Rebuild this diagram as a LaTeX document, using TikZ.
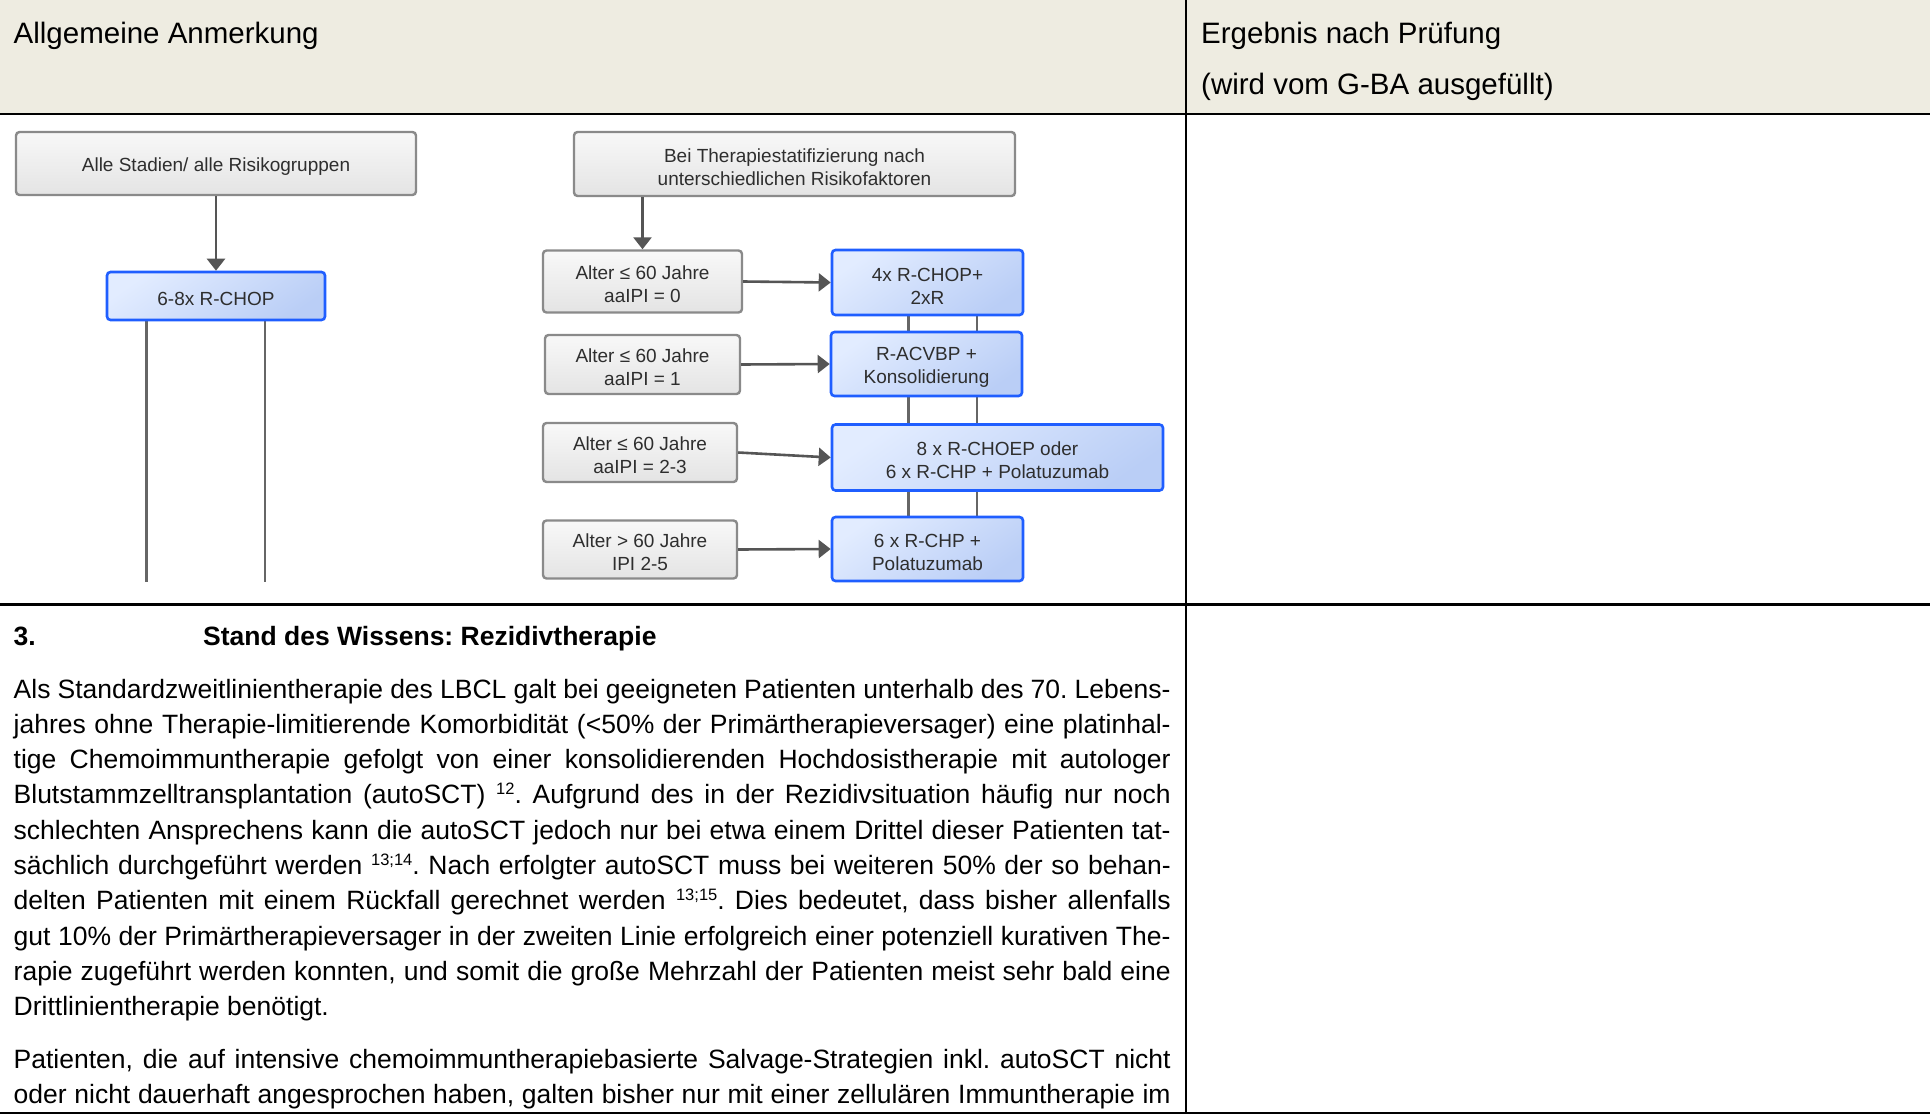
\documentclass[tikz,border=0pt]{standalone}
\usepackage{fontspec}
\setmainfont{Liberation Sans}
\usetikzlibrary{arrows.meta,backgrounds}
\definecolor{hdr}{HTML}{EEECE1}
\definecolor{gborder}{HTML}{8A8A8A}
\definecolor{gtop}{HTML}{F8F8F8}
\definecolor{gbot}{HTML}{E4E4E4}
\definecolor{bborder}{HTML}{1F5EFF}
\definecolor{btop}{HTML}{E2ECFF}
\definecolor{bbot}{HTML}{BACEF6}
\definecolor{conn}{HTML}{555555}
\definecolor{boxtext}{HTML}{2E2E2E}
\newcommand{\boxstrut}{\rule{0pt}{20pt}}
\newcommand{\supref}[1]{\raisebox{9.5pt}{\fontsize{16.5}{16.5}\selectfont #1}}
\frenchspacing
\begin{document}
\begin{tikzpicture}[x=1pt,y=-1pt,
  box/.style 2 args={minimum width=#1, minimum height=#2, inner sep=0pt, align=center,
     rounded corners=3.5pt, text=boxtext, font=\fontsize{19}{23}\selectfont},
  graybox/.style={draw=gborder, line width=2.4pt, top color=gtop, bottom color=gbot},
  bluebox/.style={draw=bborder, line width=2.6pt, top color=btop, bottom color=bbot, shading angle=35},
  arr/.style={draw=conn, line width=2.6pt, -{Triangle[width=18pt,length=12pt]}},
  plainline/.style={draw=conn!90, line width=2.2pt},
  rule/.style={line width=2.2pt, black},
  hdrtext/.style={anchor=base west, inner sep=0pt, font=\fontsize{29.5}{35}\selectfont},
  bodytext/.style={anchor=base west, inner sep=0pt, font=\fontsize{26.5}{35.3}\selectfont}]
\useasboundingbox (0,0) rectangle (1930,1116);
% header band
\fill[hdr] (0,0) rectangle (1930,113);
% table rules
\draw[rule] (0,114) -- (1930,114);
\draw[rule] (1186,0) -- (1186,1114);
\draw[rule] (0,604.5) -- (1930,604.5);
\draw[rule] (0,1113) -- (1930,1113);
% header texts
\node[hdrtext] (h1) at (13.5,44) {Allgemeine Anmerkung};
\node[hdrtext] (h2) at (1201,44) {Ergebnis nach Prüfung};
\node[hdrtext] (h3) at (1201,94) {(wird vom G-BA ausgefüllt)};
% flowchart left
\node[box={400pt}{63pt}, graybox] (A) at (216,163.5) {\boxstrut Alle Stadien/ alle Risikogruppen};
\node[box={218pt}{48pt}, bluebox] (B) at (216,296) {\boxstrut 6-8x R-CHOP};
\coordinate (bL) at (146.5,582);
\coordinate (bR) at (264.6,582);
% flowchart right
\node[box={441pt}{64pt}, graybox] (C) at (794.5,164) {\boxstrut Bei Therapiestatifizierung nach\\unterschiedlichen Risikofaktoren};
\node[box={199pt}{62pt}, graybox] (D1) at (642.5,281.5) {\boxstrut Alter ≤ 60 Jahre\\aaIPI = 0};
\node[box={195pt}{59pt}, graybox] (D2) at (642.5,364.5) {\boxstrut Alter ≤ 60 Jahre\\aaIPI = 1};
\node[box={194pt}{59pt}, graybox] (D3) at (640,452.5) {\boxstrut Alter ≤ 60 Jahre\\aaIPI = 2-3};
\node[box={194pt}{58pt}, graybox] (D4) at (640,549.5) {\boxstrut Alter > 60 Jahre\\IPI 2-5};
\node[box={191pt}{65pt}, bluebox] (E1) at (927.5,282.5) {\boxstrut 4x R-CHOP+\\2xR};
\node[box={191pt}{64pt}, bluebox] (E2) at (926.5,364) {\boxstrut R-ACVBP +\\Konsolidierung};
\node[box={331pt}{66pt}, bluebox] (E3) at (997.5,457.5) {\boxstrut 8 x R-CHOEP oder\\6 x R-CHP + Polatuzumab};
\node[box={191pt}{64pt}, bluebox] (E4) at (927.5,549) {\boxstrut 6 x R-CHP +\\Polatuzumab};
\coordinate (eL) at (908.4,582);
\coordinate (eR) at (977.3,582);
% connectors
\draw[arr] (A.south) -- (B.north);
\draw[arr] (C.south -| D1.north) -- (D1.north);
\draw[arr] (D1.east) -- (E1.west);
\draw[arr] (D2.east) -- (E2.west);
\draw[arr] (D3.east) -- (E3.west);
\draw[arr] (D4.east) -- (E4.west);
\begin{scope}[on background layer]
\draw[plainline] (B.south -| bL) -- (bL);
\draw[plainline] (B.south -| bR) -- (bR);
\draw[plainline] (E1.south -| eL) -- (eL);
\draw[plainline] (E1.south -| eR) -- (eR);
\end{scope}
% body section
\node[bodytext, font=\fontsize{26.5}{35.3}\selectfont\bfseries] (n3) at (13.5,645) {3.};
\node[bodytext, font=\fontsize{26.5}{35.3}\selectfont\bfseries] (ttl) at (203,645) {Stand des Wissens: Rezidivtherapie};
\node[bodytext] (p1) at (13.5,698) {\vtop{\hsize=1157pt \baselineskip=35.3pt
\hbox to\hsize{Als Standardzweitlinientherapie des LBCL galt bei geeigneten Patienten unterhalb des 70. Lebens-}
\hbox to\hsize{jahres ohne Therapie-limitierende Komorbidität (<50\% der Primärtherapieversager) eine platinhal-}
\hbox to\hsize{tige Chemoimmuntherapie gefolgt von einer konsolidierenden Hochdosistherapie mit autologer}
\hbox to\hsize{Blutstammzelltransplantation (autoSCT) \supref{12}. Aufgrund des in der Rezidivsituation häufig nur noch}
\hbox to\hsize{schlechten Ansprechens kann die autoSCT jedoch nur bei etwa einem Drittel dieser Patienten tat-}
\hbox to\hsize{sächlich durchgeführt werden \supref{13;14}. Nach erfolgter autoSCT muss bei weiteren 50\% der so behan-}
\hbox to\hsize{delten Patienten mit einem Rückfall gerechnet werden \supref{13;15}. Dies bedeutet, dass bisher allenfalls}
\hbox to\hsize{gut 10\% der Primärtherapieversager in der zweiten Linie erfolgreich einer potenziell kurativen The-}
\hbox to\hsize{rapie zugeführt werden konnten, und somit die große Mehrzahl der Patienten meist sehr bald eine}
\hbox{Drittlinientherapie benötigt.}}};
\node[bodytext] (p2) at (13.5,1068) {\vtop{\hsize=1157pt \baselineskip=35.3pt
\hbox to\hsize{Patienten, die auf intensive chemoimmuntherapiebasierte Salvage-Strategien inkl. autoSCT nicht}
\hbox to\hsize{oder nicht dauerhaft angesprochen haben, galten bisher nur mit einer zellulären Immuntherapie im}}};
\end{tikzpicture}
\end{document}
